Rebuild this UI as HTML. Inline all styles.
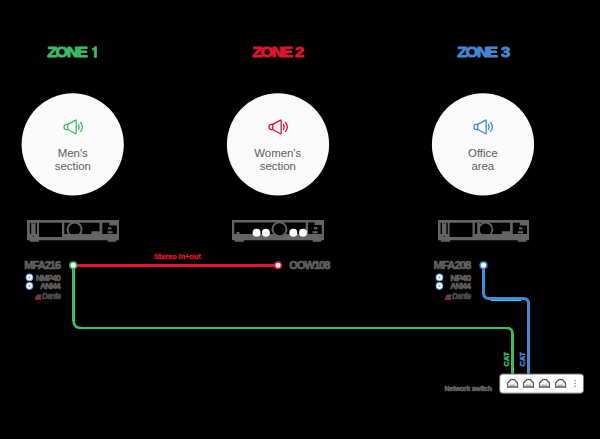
<!DOCTYPE html>
<html><head><meta charset="utf-8">
<style>
html,body{margin:0;padding:0;background:#000;}
body{width:600px;height:439px;overflow:hidden;font-family:"Liberation Sans",sans-serif;}
svg{display:block;}
text{font-family:"Liberation Sans",sans-serif;}
.zone{font-weight:bold;font-size:15.2px;letter-spacing:-1.5px;stroke-width:0.9;stroke-linejoin:round;}
.ctext{font-size:11.4px;fill:#5c5c5c;text-anchor:middle;}
.dev{font-weight:bold;font-size:11px;fill:#615f5f;letter-spacing:-0.95px;stroke:#615f5f;stroke-width:0.7;}
.sub{font-weight:bold;font-size:8.4px;fill:#615f5f;letter-spacing:-0.75px;text-anchor:end;stroke:#615f5f;stroke-width:0.6;}
</style></head><body>
<svg width="600" height="439" viewBox="0 0 600 439">
<rect width="600" height="439" fill="#000"/>

<!-- zone titles -->
<g class="zone" fill="#3dbb69" stroke="#3dbb69">
<text x="47.2" y="57.4" textLength="39.2" lengthAdjust="spacingAndGlyphs">ZONE</text><path d="M96.5 46.5 V57.4 H94.3 V50 H92.4 V48.5 Q94.5 48.2 95 46.5 Z" stroke-width="0.7"/></g>
<g class="zone" fill="#e3122f" stroke="#e3122f">
<text x="252.2" y="57.4" textLength="39.2" lengthAdjust="spacingAndGlyphs">ZONE</text><text x="295" y="57.4" textLength="7.6" lengthAdjust="spacingAndGlyphs">2</text></g>
<g class="zone" fill="#4389d3" stroke="#4389d3">
<text x="457.2" y="57.4" textLength="39.2" lengthAdjust="spacingAndGlyphs">ZONE</text><text x="500.9" y="57.4" textLength="7.6" lengthAdjust="spacingAndGlyphs">3</text></g>

<!-- circles -->
<circle cx="72.7" cy="144.4" r="51.1" fill="#fafafa"/>
<circle cx="278" cy="144.4" r="51.1" fill="#fafafa"/>
<circle cx="483" cy="144.4" r="51.1" fill="#fafafa"/>

<!-- speaker icons -->
<defs>
<g id="spk" fill="none" stroke-width="1.3" stroke-linecap="round" stroke-linejoin="round">
<path d="M4.7 5.35 L3.3 5.35 Q1.05 5.35 1.05 7.95 Q1.05 10.55 3.3 10.55 L4.7 10.55 L12.5 14.75 Q13.2 15.1 13.2 14.3 L13.2 1.6 Q13.2 0.8 12.5 1.15 L4.7 5.35 Z"/>
<path d="M4.7 5.35 V10.55"/>
<path d="M15.5 5.4 Q16.8 7.95 15.5 10.5"/>
<path d="M17.6 3.5 Q21.2 7.95 17.6 12.4"/>
</g>
</defs>
<use href="#spk" x="63" y="119" stroke="#3dbb69"/>
<use href="#spk" x="268" y="119" stroke="#e3122f"/>
<use href="#spk" x="473" y="119" stroke="#4389d3"/>

<text class="ctext" x="72.8" y="156.8">Men's</text>
<text class="ctext" x="72.8" y="170.4">section</text>
<text class="ctext" x="277.8" y="156.8">Women's</text>
<text class="ctext" x="277.8" y="170.4">section</text>
<text class="ctext" x="482.8" y="156.8">Office</text>
<text class="ctext" x="482.8" y="170.4">area</text>

<!-- lines -->
<g fill="none" stroke="#3dbb69">
<path d="M73.5 265 V321" stroke-width="3"/>
<path d="M73.5 320.5 Q73.5 328 81 328" stroke-width="2.6"/>
<path d="M80.5 328 H507" stroke-width="2"/>
<path d="M506.5 328 Q512.5 328 512.5 334" stroke-width="2.6"/>
<path d="M512.5 333.5 V374" stroke-width="3"/>
</g>
<path d="M77 265.5 H277.5" stroke="#e3122f" stroke-width="3" fill="none"/>
<path d="M490.6 300.5 H521.2" stroke="#12dfe8" stroke-width="1" fill="none"/>
<path d="M483.5 265 V293 Q483.5 298.5 489 298.5 H523.5 Q528.5 298.5 528.5 303.5 V374" stroke="#4389d3" stroke-width="3" fill="none"/>
<circle cx="73.2" cy="265.3" r="3.3" fill="#fff" stroke="#3dbb69" stroke-width="1.6"/>
<circle cx="278" cy="265.3" r="3.3" fill="#fff" stroke="#e3122f" stroke-width="1.6"/>
<circle cx="483.5" cy="265.3" r="3.3" fill="#fff" stroke="#4389d3" stroke-width="1.6"/>

<text x="177.3" y="258.8" font-size="7.3" font-weight="bold" fill="#e3122f" text-anchor="middle" stroke="#e3122f" stroke-width="0.3">Stereo in+out</text>

<!-- device 1 -->
<g id="dev1">
<path fill="#656363" fill-rule="evenodd" d="M27 220 H119 V240.2 H116.3 V241.8 H107.7 V240.2 H39 V241.8 H29.8 V240.2 H27 Z
M29.8 222.8 H31.2 V234 H29.8 Z
M35.6 222.8 H37 V234 H35.6 Z
M39 222.8 H62 V236.9 H39 Z
M64.3 222.8 H99.5 V231.3 H91.4 V234 H64.3 Z
M102.3 222.8 H109.3 V225.6 H116.9 V234 H102.3 Z"/>
<circle cx="74.6" cy="229.4" r="7" fill="none" stroke="#656363" stroke-width="2"/>
<circle cx="33.4" cy="223.7" r="0.6" fill="#000"/><circle cx="33.4" cy="236.4" r="0.6" fill="#000"/>
<rect x="108" y="227.3" width="3.4" height="2.2" fill="#656363"/>
<rect x="107.6" y="231.2" width="5" height="2.2" fill="#656363"/>
</g>

<!-- device 2 -->
<g id="dev2">
<path fill="#656363" fill-rule="evenodd" d="M232 220 H324 V240.2 H321.3 V241.8 H312.7 V240.2 H244 V241.8 H234.8 V240.2 H232 Z
M234.3 222.5 H305.7 V233.9 H234.3 Z
M308 222.5 H314.5 V225 H321.8 V233.9 H308 Z"/>
<rect x="236.5" y="232" width="3" height="2" fill="#656363"/>
<circle cx="279.5" cy="229.3" r="7" fill="#000" stroke="#656363" stroke-width="2"/>
<circle cx="256.6" cy="232.8" r="4" fill="#fff"/>
<circle cx="265.9" cy="232.8" r="4" fill="#fff"/>
<circle cx="293.3" cy="232.8" r="4" fill="#fff"/>
<circle cx="303" cy="232.8" r="4" fill="#fff"/>
<rect x="314" y="227" width="3.4" height="2.4" fill="#656363"/>
<rect x="312.6" y="231.2" width="5" height="2.2" fill="#656363"/>
</g>

<!-- device 3 -->
<g id="dev3">
<path fill="#656363" fill-rule="evenodd" d="M438 220 H529 V240.2 H526.3 V241.8 H517.7 V240.2 H450 V241.8 H440.8 V240.2 H438 Z
M440.6 222.8 H442 V234 H440.6 Z
M446.4 222.8 H447.8 V234 H446.4 Z
M449.5 222.8 H472.5 V236.9 H449.5 Z
M474.8 222.8 H510 V231.3 H501.9 V234 H474.8 Z
M512.8 222.8 H519.8 V225.6 H527 V234 H512.8 Z"/>
<circle cx="485.6" cy="229.5" r="6.8" fill="none" stroke="#656363" stroke-width="1.8"/><rect x="477.2" y="222.8" width="2.6" height="11.2" fill="#656363"/>
<circle cx="444.2" cy="223.7" r="0.6" fill="#000"/><circle cx="444.2" cy="236.4" r="0.6" fill="#000"/>
<rect x="519" y="227.3" width="3.4" height="2.2" fill="#656363"/>
<rect x="518" y="231.2" width="5" height="2.2" fill="#656363"/>
</g>

<!-- labels zone 1 -->
<text class="dev" x="60.2" y="269" text-anchor="end">MFA216</text>
<text class="sub" x="60" y="280.5">NMP40</text>
<text class="sub" x="60" y="289.2">ANI44</text>
<text class="sub" x="41.9" y="299.4" font-style="italic" style="text-anchor:start;fill:#4d4b4b;stroke:#4d4b4b" textLength="18.4" lengthAdjust="spacingAndGlyphs">Dante</text>
<path d="M35.1 298 L36.9 294.4 L41.9 294.4 L40.7 298 Z" fill="#4d4b4b"/>
<rect x="35.1" y="298.1" width="5.9" height="1.7" fill="#e3122f"/>
<g fill="#fff" stroke="#5aaefc" stroke-width="1">
<circle cx="29.45" cy="277.4" r="3.45"/><circle cx="29.45" cy="285.9" r="3.45"/>
</g>
<circle cx="29.45" cy="277.4" r="0.9" fill="#888"/><circle cx="29.45" cy="285.9" r="0.9" fill="#888"/>

<!-- OOW108 -->
<text class="dev" x="289.3" y="269">OOW108</text>

<!-- labels zone 3 -->
<text class="dev" x="433.6" y="269" textLength="36.8" lengthAdjust="spacingAndGlyphs">MFA208</text>
<text class="sub" x="450.2" y="280.7" style="text-anchor:start" textLength="20.2" lengthAdjust="spacingAndGlyphs">NP40</text>
<text class="sub" x="470.2" y="289.2">ANI44</text>
<text class="sub" x="452" y="299.4" font-style="italic" style="text-anchor:start;fill:#4d4b4b;stroke:#4d4b4b" textLength="18.4" lengthAdjust="spacingAndGlyphs">Dante</text>
<path d="M445.1 298 L446.9 294.4 L451.9 294.4 L450.7 298 Z" fill="#4d4b4b"/>
<rect x="445.1" y="298.1" width="5.9" height="1.7" fill="#e3122f"/>
<g fill="#fff" stroke="#5aaefc" stroke-width="1">
<circle cx="439.45" cy="277.4" r="3.45"/><circle cx="439.45" cy="285.9" r="3.45"/>
</g>
<circle cx="439.45" cy="277.4" r="0.9" fill="#888"/><circle cx="439.45" cy="285.9" r="0.9" fill="#888"/>

<!-- switch -->
<rect x="499.7" y="374" width="83.8" height="19.2" rx="3" fill="#fff" stroke="#6e6e6e" stroke-width="1"/>
<defs>
<g id="port">
<path d="M-4.9 3.6 V-0.7 L-1.9 -3.7 H1.9 L4.9 -0.7 V3.6 Z" fill="none" stroke="#5c5a5a" stroke-width="1.3" stroke-linejoin="miter"/>
<path d="M-2.1 2.6 V1.1 M-0.7 2.6 V1.1 M0.7 2.6 V1.1 M2.1 2.6 V1.1" stroke="#777" stroke-width="0.8"/>
</g>
</defs>
<use href="#port" x="512.6" y="383.4"/>
<use href="#port" x="528.5" y="383.4"/>
<use href="#port" x="544.5" y="383.4"/>
<use href="#port" x="560.6" y="383.4"/>
<g fill="#8a8a8a"><circle cx="575" cy="380.6" r="0.8"/><circle cx="575" cy="383.5" r="0.8"/><circle cx="575" cy="386.4" r="0.8"/></g>

<text x="491.7" y="390.7" font-size="7" font-weight="bold" fill="#6a6868" text-anchor="end" letter-spacing="-0.3" stroke="#6a6868" stroke-width="0.5">Network switch</text>

<text transform="translate(509.2 366.6) rotate(-90)" font-size="7.4" font-weight="bold" fill="#3dbb69" stroke="#3dbb69" stroke-width="0.4">CAT</text>
<text transform="translate(525.4 366.6) rotate(-90)" font-size="7.4" font-weight="bold" fill="#4389d3" stroke="#4389d3" stroke-width="0.4">CAT</text>
</svg>
</body></html>
